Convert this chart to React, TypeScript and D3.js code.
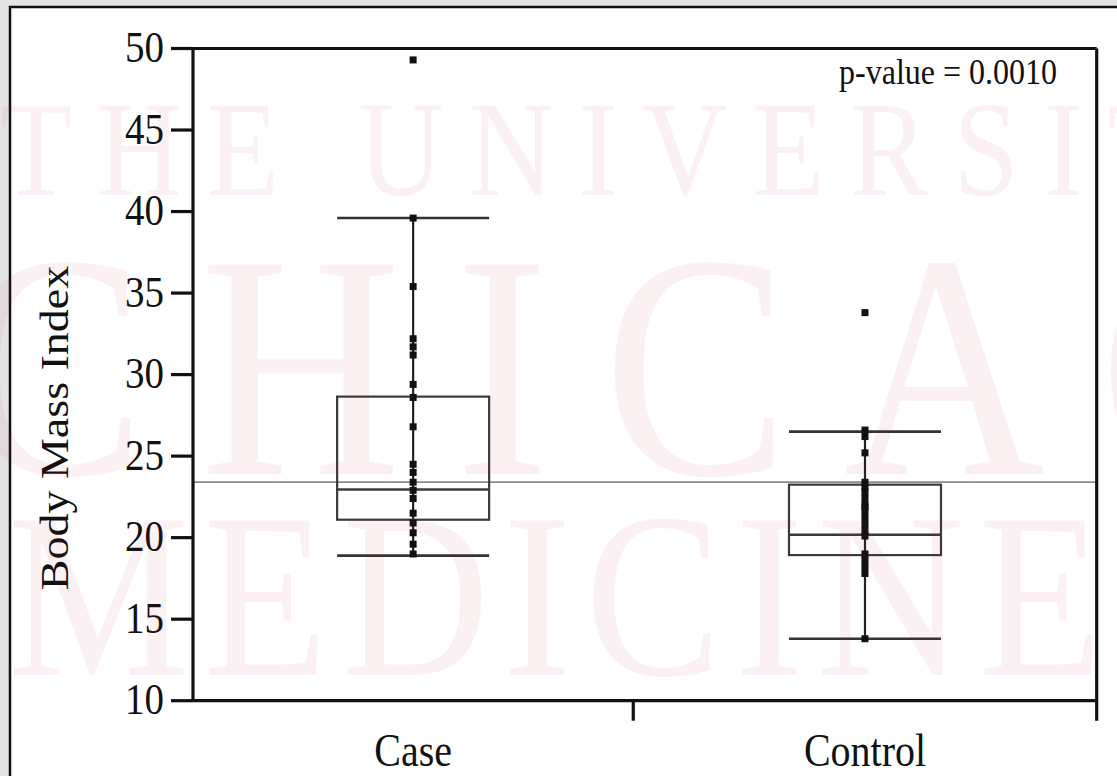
import React from "react";
import * as d3 from "d3";

// ---- data ----
const categories = ["Case", "Control"];
const caseValues = [49.3, 39.6, 35.4, 32.2, 31.7, 31.2, 29.4, 28.6, 26.8, 24.5, 24.0, 23.4, 22.9, 22.4, 21.5, 20.9, 20.3, 19.6, 19.0];
const controlValues = [33.8, 26.6, 26.2, 25.2, 23.4, 23.1, 22.8, 22.4, 22.0, 21.6, 21.2, 20.8, 20.4, 20.1, 19.0, 18.6, 18.2, 17.8, 13.8, 21.9];
const lowerWhisker = [18.9, 13.8];
const quartile1 = [21.1, 18.93];
const medians = [22.95, 20.18];
const quartile3 = [28.65, 23.25];
const upperWhisker = [39.6, 26.5];
const grandMean = 23.4;
const yTicks = [10, 15, 20, 25, 30, 35, 40, 45, 50];
const yDomain = [10, 50];
const yLabel = "Body Mass Index";
const pValueText = "p-value = 0.0010";
const watermarkLines = ["THE UNIVERSITY", "CHICAGO", "MEDICINE"];

const W = 1117;
const H = 776;
const FONT = "'Liberation Serif', 'Times New Roman', serif";
const VS = 1.15; // vertical stretch of the reference's lettering

export default function App() {
  const groups = [caseValues, controlValues];
  const counts = groups.map((g) => g.length);
  const total = d3.sum(counts);
  const cum = [0, ...Array.from(d3.cumsum(counts))];

  const plot = { left: 193, right: 1096.7, top: 48.5, bottom: 700.7 };
  const x = d3.scaleLinear().domain([0, total]).range([plot.left, plot.right]);
  const y = d3.scaleLinear().domain(yDomain).range([plot.bottom, plot.top]);
  const boxHalf = 76;
  const pt = 7;

  const centers = categories.map((_, i) => x((cum[i] + cum[i + 1]) / 2));
  const boundaries = cum.slice(1).map((c) => x(c));

  const wmFill = "#c8102e";
  const wmOpacity = 0.055;

  return (
    <svg
      width={W}
      height={H}
      viewBox={`0 0 ${W} ${H}`}
      style={{ position: "absolute", left: 0, top: 0, display: "block" }}
      fontFamily={FONT}
    >
      <rect x={0} y={0} width={W} height={H} fill="#e4e4e4" />
      <rect x={10} y={7} width={W + 20} height={H + 20} fill="#ffffff" stroke="#111" strokeWidth={2.5} />

      {/* grand mean reference line */}
      <line x1={plot.left} x2={plot.right} y1={y(grandMean)} y2={y(grandMean)} stroke="#8c8c8c" strokeWidth={1.8} />

      {/* boxes */}
      {categories.map((c, i) => {
        const cx = centers[i];
        return (
          <g key={c}>
            <line x1={cx} x2={cx} y1={y(lowerWhisker[i])} y2={y(upperWhisker[i])} stroke="#222" strokeWidth={2.2} />
            <rect
              x={cx - boxHalf}
              y={y(quartile3[i])}
              width={boxHalf * 2}
              height={y(quartile1[i]) - y(quartile3[i])}
              fill="none"
              stroke="#3a3a3a"
              strokeWidth={2.2}
            />
            <line x1={cx - boxHalf} x2={cx + boxHalf} y1={y(medians[i])} y2={y(medians[i])} stroke="#3a3a3a" strokeWidth={2.4} />
            <line x1={cx - boxHalf} x2={cx + boxHalf} y1={y(upperWhisker[i])} y2={y(upperWhisker[i])} stroke="#333" strokeWidth={2.6} />
            <line x1={cx - boxHalf} x2={cx + boxHalf} y1={y(lowerWhisker[i])} y2={y(lowerWhisker[i])} stroke="#333" strokeWidth={2.6} />
            {groups[i].map((v, j) => (
              <rect key={j} x={cx - pt / 2} y={y(v) - pt / 2} width={pt} height={pt} fill="#111" />
            ))}
          </g>
        );
      })}

      {/* axes frame */}
      <g stroke="#111" strokeWidth={3.2} fill="none">
        <line x1={plot.left} x2={plot.right} y1={plot.top} y2={plot.top} />
        <line x1={plot.left} x2={plot.right} y1={plot.bottom} y2={plot.bottom} />
        <line x1={plot.left} x2={plot.left} y1={plot.top} y2={plot.bottom} />
        <line x1={plot.right} x2={plot.right} y1={plot.top} y2={plot.bottom + 20} />
        {boundaries.slice(0, -1).map((bx, i) => (
          <line key={i} x1={bx} x2={bx} y1={plot.bottom} y2={plot.bottom + 20} />
        ))}
        {yTicks.map((t) => (
          <line key={t} x1={plot.left - 22} x2={plot.left} y1={y(t)} y2={y(t)} />
        ))}
      </g>

      {/* y tick labels */}
      {yTicks.map((t) => (
        <text
          key={t}
          transform={`translate(164, ${y(t) + 13.5}) scale(1, ${VS})`}
          textAnchor="end"
          fontSize={39}
          fill="#111"
        >
          {t}
        </text>
      ))}

      {/* x category labels */}
      {categories.map((c, i) => (
        <text
          key={c}
          transform={`translate(${centers[i]}, 766) scale(1, ${VS})`}
          textAnchor="middle"
          fontSize={40}
          fill="#111"
        >
          {c}
        </text>
      ))}

      <text
        transform={`translate(68, 428) rotate(-90) scale(${VS}, 1)`}
        textAnchor="middle"
        fontSize={40}
        fill="#111"
      >
        {yLabel}
      </text>

      <text transform={`translate(1057, 84) scale(1, ${VS})`} textAnchor="end" fontSize={32} fill="#111">
        {pValueText}
      </text>

      {/* watermark */}
      <g fill={wmFill} opacity={wmOpacity} pointerEvents="none">
        <text transform={`translate(0, 195) scale(1, ${VS})`} fontSize={118} textLength={1290} lengthAdjust="spacing">
          {watermarkLines[0]}
        </text>
        <text transform={`translate(-40, 474) scale(1, ${VS})`} fontSize={278} textLength={1596} lengthAdjust="spacing">
          {watermarkLines[1]}
        </text>
        <text transform={`translate(8, 675) scale(1, ${VS})`} fontSize={204} textLength={1095} lengthAdjust="spacing">
          {watermarkLines[2]}
        </text>
      </g>
    </svg>
  );
}
